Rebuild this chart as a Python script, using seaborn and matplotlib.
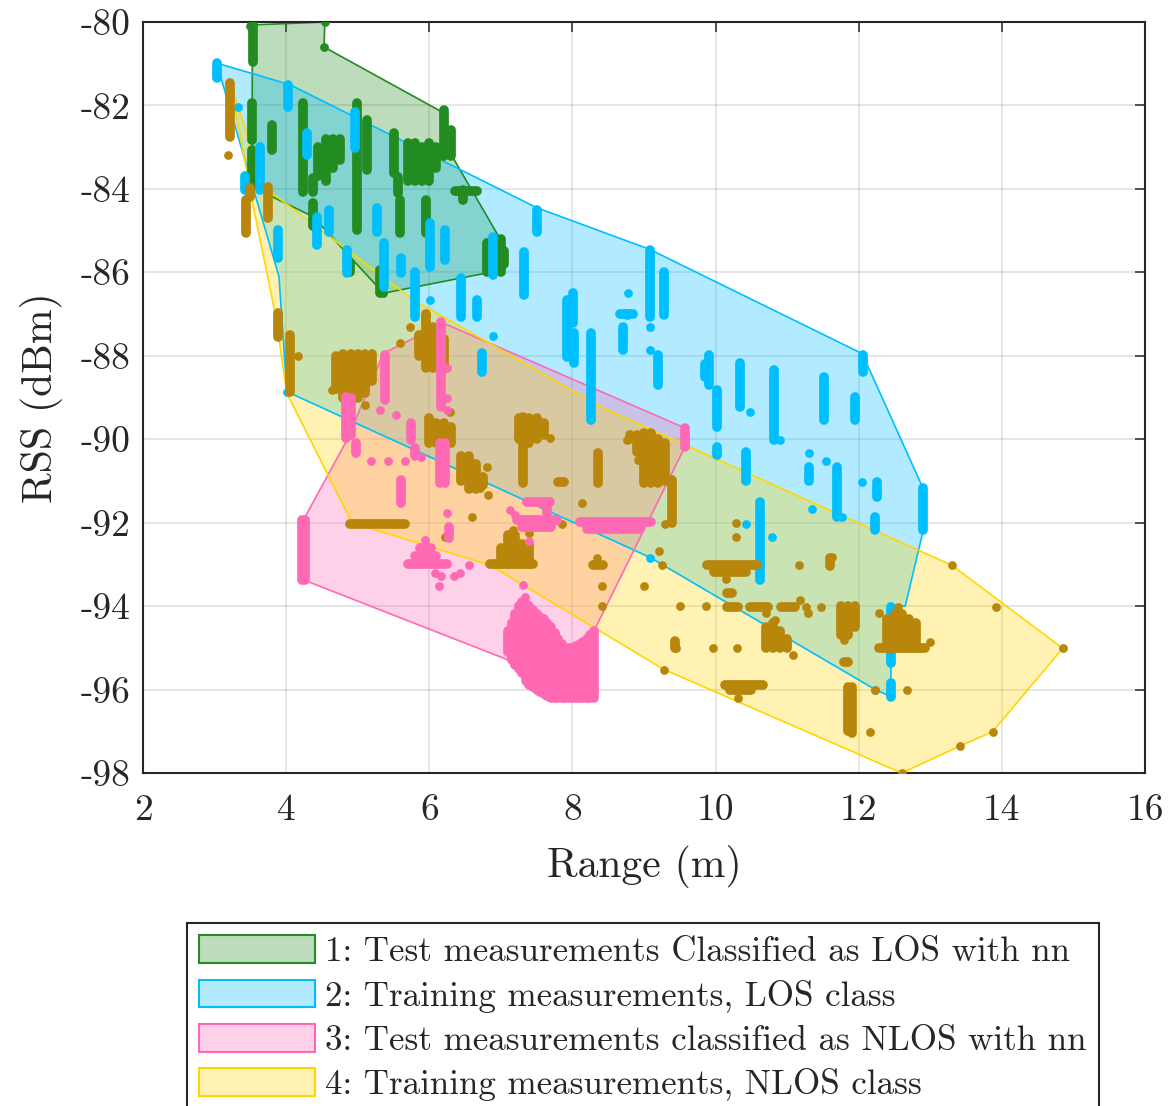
import numpy as np
import matplotlib
matplotlib.use("Agg")
import matplotlib.pyplot as plt
import seaborn as sns
from matplotlib.collections import LineCollection
from matplotlib.patches import Patch
from matplotlib.colors import to_rgba

# ---------------- data ----------------
labels = ["1: Test measurements Classified as LOS with nn",
          "2: Training measurements, LOS class",
          "3: Test measurements classified as NLOS with nn",
          "4: Training measurements, NLOS class"]
xticks = [2, 4, 6, 8, 10, 12, 14, 16]
yticks = [-98, -96, -94, -92, -90, -88, -86, -84, -82, -80]

# boundaries (range m, RSS dBm)
los_test_hull_range = [3.53, 4.54, 4.53, 6.15, 6.31, 6.99, 6.85, 5.36, 4.38, 3.52, 3.53]
los_test_hull_rss = [-80.07, -80.0, -80.6, -82.13, -83.19, -85.2, -86.0, -86.5, -84.67, -83.95, -80.07]

los_train_hull_range = [3.04, 4.05, 7.5, 9.08, 12.05, 12.9, 12.9, 12.65, 12.45, 12.45, 12.23, 9.08, 4.01, 3.9, 3.1, 3.04]
los_train_hull_rss = [-80.99, -81.5, -84.45, -85.45, -87.95, -91.18, -92.2, -94.0, -94.0, -96.17, -96.0, -92.83, -88.86, -86.1, -81.4, -80.99]

nlos_test_hull_range = [6.2, 9.57, 9.57, 8.32, 8.32, 7.45, 7.22, 4.24, 4.24, 4.85, 5.36, 6.2]
nlos_test_hull_rss = [-87.22, -89.73, -90.19, -94.53, -96.21, -95.97, -95.37, -93.37, -91.94, -90.02, -87.94, -87.22]

nlos_train_hull_range = [3.22, 3.3, 3.6, 3.75, 5.78, 8.39, 13.3, 14.85, 13.87, 13.42, 12.6, 9.28, 8.32, 6.85, 4.92, 4.01, 3.85, 3.55, 3.22]
nlos_train_hull_rss = [-81.47, -81.9, -83.4, -84.03, -86.66, -89.22, -93.02, -95.01, -97.01, -97.35, -98.0, -95.52, -94.53, -93.02, -92.0, -88.9, -87.0, -84.5, -81.47]

# runs of consecutive measurements: (range0, rss0, range1, rss1)
los_test_runs = [
    (3.54, -80.07, 3.54, -80.95), (3.52, -81.94, 3.52, -82.83), (3.52, -83.07, 3.52, -83.9),
    (3.80, -82.47, 3.80, -83.07), (4.24, -81.94, 4.24, -84.07), (4.38, -83.74, 4.38, -84.07),
    (4.45, -83.0, 4.45, -83.7), (4.55, -82.8, 4.55, -83.8), (4.65, -82.8, 4.65, -83.5),
    (4.75, -82.8, 4.75, -83.3), (4.99, -81.94, 4.99, -84.99), (5.13, -82.35, 5.13, -83.55),
    (4.38, -84.35, 4.38, -84.9), (5.5, -82.67, 5.5, -83.63), (5.56, -83.72, 5.56, -84.1),
    (5.59, -84.27, 5.59, -85.06), (5.7, -82.9, 5.7, -83.8), (5.8, -82.9, 5.8, -83.8),
    (5.9, -83.0, 5.9, -83.8), (6.0, -82.9, 6.0, -83.8), (6.1, -83.0, 6.1, -83.5),
    (5.96, -84.27, 5.96, -85.06), (6.2, -82.1, 6.2, -83.2), (6.3, -82.6, 6.3, -83.2),
    (6.36, -84.05, 6.67, -84.05), (6.47, -84.03, 6.47, -84.27), (6.8, -85.3, 6.8, -86.0),
    (6.9, -85.2, 6.9, -86.0), (7.0, -85.2, 7.0, -86.0), (7.05, -85.5, 7.05, -85.8),
    (5.31, -85.94, 5.31, -86.5), (4.89, -85.78, 4.89, -86.0),
]
los_test_pt_range = [4.54, 4.53, 3.5, 6.99, 5.36]
los_test_pt_rss = [-80.0, -80.6, -80.1, -85.2, -86.5]

los_train_runs = [
    (3.04, -80.99, 3.04, -81.35), (4.03, -81.51, 4.03, -82.04), (4.29, -82.67, 4.29, -83.19),
    (3.63, -83.0, 3.63, -84.03), (3.43, -83.7, 3.43, -84.03), (4.96, -82.15, 4.96, -83.03),
    (3.89, -84.99, 3.89, -85.66), (4.43, -84.67, 4.43, -85.35), (4.60, -84.5, 4.60, -85.03),
    (4.85, -85.47, 4.85, -86.02), (5.27, -84.46, 5.27, -85.03), (5.37, -85.3, 5.37, -86.35),
    (5.60, -85.66, 5.60, -86.02), (5.80, -85.99, 5.80, -87.07), (6.01, -84.82, 6.01, -85.87),
    (6.22, -84.99, 6.22, -85.7), (6.45, -86.14, 6.45, -87.07), (6.67, -86.66, 6.67, -87.07),
    (6.89, -85.15, 6.89, -86.07), (7.33, -85.51, 7.33, -86.54), (7.5, -84.5, 7.5, -85.03),
    (8.01, -86.5, 8.01, -87.22), (8.67, -87.0, 8.85, -87.0), (9.08, -85.47, 9.08, -87.07),
    (9.28, -85.99, 9.28, -87.02), (6.73, -87.93, 6.73, -88.39), (7.93, -86.66, 7.93, -88.03),
    (8.02, -87.45, 8.02, -88.17), (8.26, -87.46, 8.26, -89.54), (8.71, -87.31, 8.71, -87.86),
    (9.2, -87.98, 9.2, -88.7), (9.91, -87.98, 9.91, -88.7), (9.85, -88.2, 9.85, -88.5),
    (10.02, -88.82, 10.02, -89.71), (10.02, -90.19, 10.02, -90.38), (10.34, -88.17, 10.34, -89.23),
    (10.81, -88.34, 10.81, -90.02), (11.51, -88.51, 11.51, -89.54), (11.95, -88.99, 11.95, -89.54),
    (12.06, -87.98, 12.06, -88.39), (10.43, -90.31, 10.43, -91.0), (11.3, -90.67, 11.3, -91.0),
    (11.7, -90.67, 11.7, -91.86), (12.25, -91.02, 12.25, -91.38), (12.23, -91.86, 12.23, -92.18),
    (12.9, -91.18, 12.9, -92.18), (10.62, -91.5, 10.62, -93.37), (12.45, -94.01, 12.45, -94.65),
    (12.45, -95.13, 12.45, -95.37), (12.45, -95.85, 12.45, -96.17),
]
los_train_pt_range = [3.33, 6.01, 6.89, 8.78, 9.08, 10.48, 10.9, 11.3, 11.54, 12.05, 11.35,
                      10.43, 10.79, 9.08, 4.01, 8.76, 9.08, 11.77, 10.33, 12.23]
los_train_pt_rss = [-82.03, -86.66, -87.52, -86.5, -87.86, -89.35, -90.02, -90.34, -90.51, -91.03,
                    -91.67, -92.02, -92.34, -92.84, -88.86, -87.02, -87.3, -91.86, -89.14, -96.0]

nlos_test_runs = [
    (4.22, -91.94, 4.22, -93.37), (4.27, -91.94, 4.27, -93.37), (4.83, -88.98, 4.83, -89.98),
    (4.9, -89.0, 4.9, -89.9), (4.98, -90.09, 4.98, -90.33), (5.38, -87.98, 5.38, -89.06),
    (5.75, -89.6, 5.75, -90.02), (5.8, -90.2, 5.8, -90.4), (5.61, -90.98, 5.61, -91.53),
    (6.17, -87.18, 6.17, -89.23), (6.15, -90.1, 6.15, -91.05), (6.22, -90.1, 6.22, -91.05),
    (6.27, -92.1, 6.27, -92.37), (5.7, -93.0, 6.25, -93.0), (5.8, -92.8, 6.1, -92.8),
    (5.87, -92.6, 6.02, -92.6), (7.36, -91.5, 7.69, -91.5), (7.64, -91.65, 7.64, -91.77),
    (7.22, -91.94, 7.78, -91.94), (7.3, -92.1, 7.7, -92.1), (8.1, -91.98, 9.1, -91.98),
    (8.2, -92.15, 8.95, -92.15), (9.57, -89.73, 9.57, -90.19),
    (7.1, -94.6, 7.1, -95.1), (7.15, -94.4, 7.15, -95.3), (7.2, -94.2, 7.2, -95.4),
    (7.25, -94.0, 7.25, -95.5), (7.3, -93.9, 7.3, -95.6), (7.35, -93.95, 7.35, -95.8),
    (7.4, -94.0, 7.4, -95.9), (7.45, -94.1, 7.45, -95.95), (7.5, -94.2, 7.5, -96.0),
    (7.55, -94.25, 7.55, -96.05), (7.6, -94.3, 7.6, -96.1), (7.65, -94.4, 7.65, -96.15),
    (7.7, -94.5, 7.7, -96.2), (7.75, -94.65, 7.75, -96.2), (7.8, -94.8, 7.8, -96.2),
    (7.85, -94.9, 7.85, -96.2), (7.9, -95.0, 7.9, -96.2), (7.95, -95.0, 7.95, -96.2),
    (8.0, -95.0, 8.0, -96.2), (8.05, -94.95, 8.05, -96.2), (8.1, -94.9, 8.1, -96.2),
    (8.15, -94.85, 8.15, -96.2), (8.2, -94.8, 8.2, -96.2), (8.25, -94.7, 8.25, -96.2),
    (8.3, -94.6, 8.3, -96.2),
]
nlos_test_pt_range = [5.31, 5.54, 5.89, 5.19, 5.42, 5.66, 6.25, 6.08, 6.17, 6.13, 6.34, 6.43, 6.55,
                      7.13, 7.2, 7.4, 7.31, 7.34, 6.25, 6.25, 6.25, 5.94]
nlos_test_pt_rss = [-89.3, -89.42, -90.42, -90.52, -90.52, -90.52, -91.76, -93.21, -93.29, -93.52,
                    -93.29, -93.21, -93.01, -91.7, -91.82, -92.45, -93.5, -93.77, -88.3, -89.0, -89.3, -92.42]

nlos_train_runs = [
    (3.22, -81.47, 3.22, -82.75), (3.5, -83.98, 3.5, -84.19), (3.44, -84.27, 3.44, -85.06),
    (3.74, -83.95, 3.74, -84.7), (3.89, -86.98, 3.89, -87.55), (4.05, -87.5, 4.05, -88.87),
    (4.7, -88.0, 4.7, -88.8), (4.8, -87.95, 4.8, -89.0), (4.9, -87.95, 4.9, -89.0),
    (5.0, -87.95, 5.0, -89.0), (5.1, -87.95, 5.1, -88.9), (5.2, -87.95, 5.2, -88.6),
    (5.85, -87.5, 5.85, -88.0), (5.95, -87.0, 5.95, -88.3), (6.05, -87.3, 6.05, -88.3),
    (6.2, -87.6, 6.2, -88.3), (6.0, -89.5, 6.0, -90.1), (6.1, -89.6, 6.1, -90.1),
    (6.2, -89.6, 6.2, -90.1), (6.3, -89.7, 6.3, -90.1), (6.45, -90.4, 6.45, -91.0),
    (6.55, -90.4, 6.55, -91.2), (6.65, -90.6, 6.65, -91.2), (6.75, -90.9, 6.75, -91.1),
    (7.25, -89.5, 7.25, -90.0), (7.31, -89.46, 7.31, -91.05), (7.4, -89.5, 7.4, -90.1),
    (7.5, -89.5, 7.5, -90.0), (7.6, -89.6, 7.6, -89.9), (7.8, -91.02, 7.88, -91.02),
    (8.36, -90.33, 8.36, -91.05), (8.8, -89.9, 8.8, -90.0), (8.9, -89.9, 8.9, -90.3),
    (9.0, -89.85, 9.0, -91.05), (9.1, -89.85, 9.1, -91.05), (9.2, -90.0, 9.2, -91.05),
    (9.3, -90.1, 9.3, -91.0), (9.39, -90.98, 9.39, -92.0), (4.89, -92.02, 5.66, -92.02),
    (6.85, -93.0, 7.45, -93.0), (7.0, -92.6, 7.0, -93.0), (7.1, -92.3, 7.1, -93.0),
    (7.2, -92.3, 7.2, -93.0), (7.3, -92.5, 7.3, -93.0), (7.4, -92.5, 7.4, -93.0),
    (8.29, -93.02, 8.43, -93.02), (9.44, -94.83, 9.44, -95.01), (9.88, -93.02, 10.58, -93.02),
    (9.98, -93.18, 10.43, -93.18), (10.16, -93.68, 10.23, -93.68), (10.16, -94.01, 10.31, -94.01),
    (10.48, -94.01, 10.73, -94.01), (10.91, -94.01, 11.11, -94.01), (11.6, -92.85, 11.6, -93.05),
    (11.75, -94.0, 11.75, -94.7), (11.85, -94.0, 11.85, -94.7), (11.95, -94.0, 11.95, -94.5),
    (11.8, -95.35, 11.85, -95.35), (11.85, -95.95, 11.85, -97.0), (11.9, -95.95, 11.9, -97.05),
    (10.7, -94.5, 10.7, -95.0), (10.8, -94.4, 10.8, -95.0), (10.9, -94.6, 10.9, -95.0),
    (11.0, -94.8, 11.0, -95.0), (10.13, -95.9, 10.66, -95.9), (10.2, -96.0, 10.5, -96.0),
    (12.28, -95.0, 12.92, -95.0), (12.4, -94.3, 12.4, -95.0), (12.5, -94.2, 12.5, -95.0),
    (12.6, -94.2, 12.6, -95.0), (12.7, -94.3, 12.7, -95.0), (12.8, -94.4, 12.8, -95.0),
]
nlos_train_pt_range = [3.19, 5.96, 4.16, 4.64, 5.1, 5.59, 6.29, 5.73, 6.71, 6.82, 7.69, 8.13, 7.85,
                       6.59, 6.22, 4.96, 7.17, 7.4, 8.34, 8.41, 8.41, 9.0, 9.21, 9.25, 9.5, 9.87,
                       9.28, 9.96, 10.28, 10.28, 10.14, 10.7, 11.18, 11.17, 11.27, 11.48, 11.29,
                       11.8, 12.16, 10.83, 11.08, 10.3, 10.32, 12.23, 12.67, 13.0, 12.55, 12.28,
                       13.3, 13.92, 14.85, 13.87, 13.42, 12.6, 11.63, 8.76, 8.92, 6.8, 9.29, 9.45]
nlos_train_pt_rss = [-83.19, -87.02, -88.0, -88.82, -89.18, -87.69, -89.34, -87.3, -91.17, -91.34,
                     -89.97, -91.52, -92.02, -91.86, -92.35, -92.0, -92.18, -92.25, -92.85, -93.52,
                     -94.0, -93.52, -92.67, -93.02, -94.0, -94.0, -95.52, -95.01, -92.0, -92.35,
                     -93.35, -94.17, -93.85, -93.02, -94.01, -94.01, -94.17, -94.81, -97.01, -94.33,
                     -95.17, -95.01, -96.2, -96.0, -96.01, -94.85, -94.01, -94.17, -93.02, -94.01,
                     -95.01, -97.01, -97.35, -98.0, -92.82, -90.02, -90.5, -90.66, -92.02, -95.0]

# ---------------- style ----------------
c_green, c_cyan, c_pink, c_gold, c_brown = "#228B22", "#00BFFF", "#FF69B4", "#FFD700", "#B8860B"
ink = "#262626"

sns.set_theme(style="white")
plt.rcParams.update({
    "font.family": ["cmr10", "DejaVu Serif"],
    "mathtext.fontset": "cm",
    "axes.unicode_minus": False,
    "axes.formatter.use_mathtext": True,
})

fig = plt.figure(figsize=(11.7, 11.06), dpi=100)
ax = fig.add_axes([143 / 1170, 1 - 773 / 1106, 1002 / 1170, 751 / 1106])

hulls = [(los_test_hull_range, los_test_hull_rss, c_green),
         (los_train_hull_range, los_train_hull_rss, c_cyan),
         (nlos_test_hull_range, nlos_test_hull_rss, c_pink),
         (nlos_train_hull_range, nlos_train_hull_rss, c_gold)]
for i, (hx, hy, col) in enumerate(hulls):
    ax.fill(hx, hy, facecolor=col, alpha=0.3, edgecolor="none", zorder=2 + i * 0.1)
    ax.plot(hx, hy, color=col, lw=1.2, zorder=2.5 + i * 0.1)

marker_d = 6.3
run_w = 7.0
series = [(los_test_runs, los_test_pt_range, los_test_pt_rss, c_green, 4),
          (los_train_runs, los_train_pt_range, los_train_pt_rss, c_cyan, 5),
          (nlos_train_runs, nlos_train_pt_range, nlos_train_pt_rss, c_brown, 6),
          (nlos_test_runs, nlos_test_pt_range, nlos_test_pt_rss, c_pink, 7)]
for runs, px, py, col, z in series:
    segs = [[(r[0], r[1]), (r[2], r[3])] for r in runs]
    lc = LineCollection(segs, colors=col, linewidths=run_w, capstyle="round", zorder=z)
    ax.add_collection(lc)
    sns.scatterplot(x=px, y=py, color=col, s=marker_d ** 2, linewidth=0, ax=ax, zorder=z)

ax.set_xlim(2, 16)
ax.set_ylim(-98, -80)
ax.set_xticks(xticks)
ax.set_xticklabels([str(v) for v in xticks])
ax.set_yticks(yticks)
ax.set_yticklabels([str(v) for v in yticks])
ax.grid(True, color=(0.15, 0.15, 0.15), alpha=0.15, linewidth=1.1)
ax.set_axisbelow(True)
ax.tick_params(direction="in", length=7, width=1.1, top=True, right=True,
               labelsize=27, colors=ink)
ax.tick_params(axis="x", pad=15)
ax.tick_params(axis="y", pad=9)
for sp in ax.spines.values():
    sp.set_visible(True)
    sp.set_color(ink)
    sp.set_linewidth(1.5)
ax.set_xlabel("Range (m)", fontsize=30, color=ink, labelpad=13)
ax.set_ylabel("RSS (dBm)", fontsize=30, color=ink, labelpad=13)

handles = [Patch(facecolor=to_rgba(c, 0.3), edgecolor=c, linewidth=1.5)
           for c in (c_green, c_cyan, c_pink, c_gold)]
leg = fig.legend(handles, labels, loc="upper left", bbox_to_anchor=(187 / 1170, 1 - 923 / 1106),
                 fontsize=25.2, frameon=True, fancybox=False, edgecolor=ink, framealpha=1,
                 handlelength=3.3, handleheight=0.85, handletextpad=0.3, borderpad=0.35,
                 labelspacing=0.32, borderaxespad=0)
leg.get_frame().set_linewidth(1.5)
for t in leg.get_texts():
    t.set_color(ink)

fig.savefig("out.png", dpi=100)
